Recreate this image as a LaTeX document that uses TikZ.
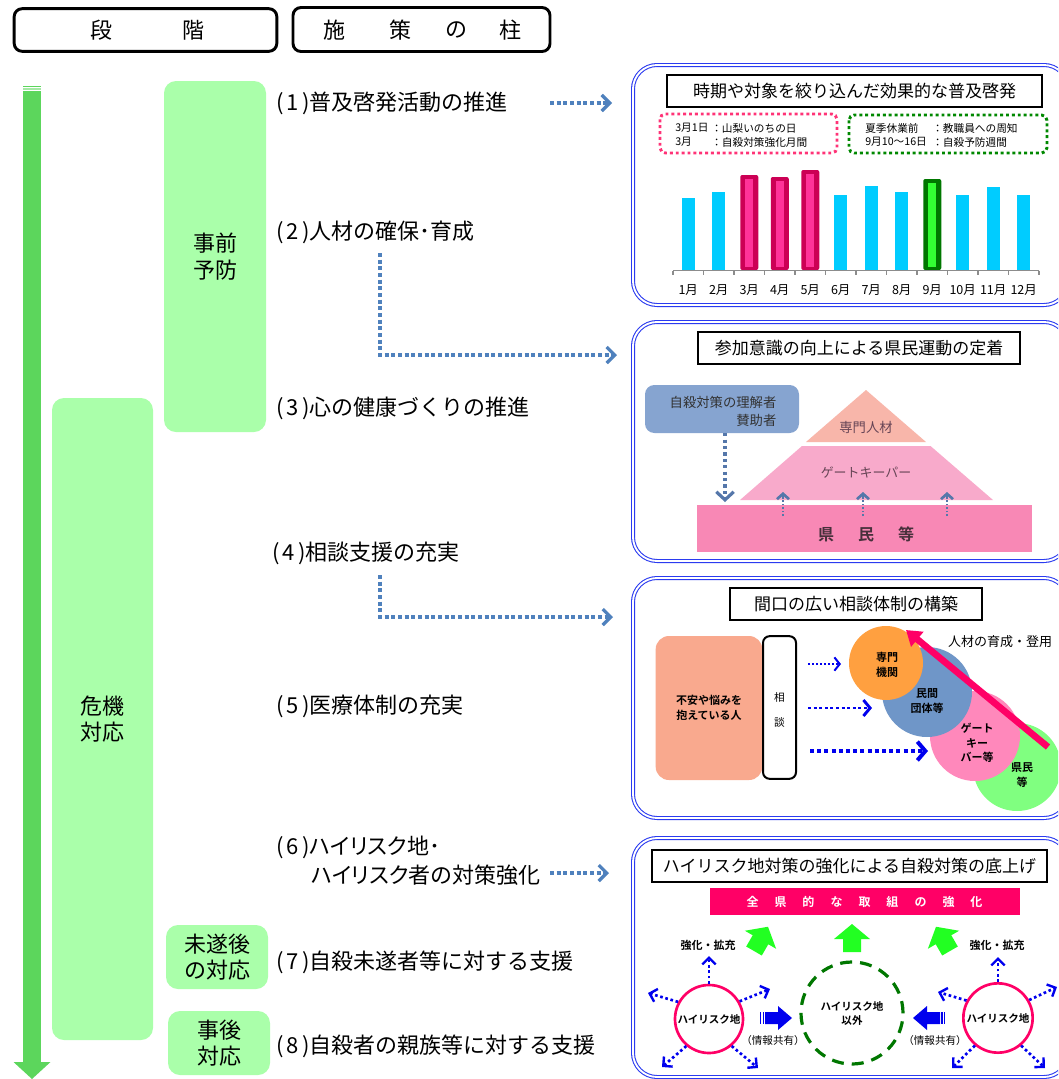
\documentclass[tikz,border=0pt]{standalone}
\usepackage{fontspec}
\setmainfont{Noto Sans CJK JP}[BoldFont={Noto Sans CJK JP Bold}]
\usetikzlibrary{arrows.meta}
\newcommand\fs[2]{\fontsize{#1}{#2}\selectfont}
\newcommand\pnum[1]{\makebox[25pt][s]{(\hfil#1\hfil)}}
\definecolor{colarrow}{HTML}{5CD65C}
\definecolor{lgreen}{HTML}{AAFFAA}
\definecolor{dotblue}{HTML}{4F81BD}
\definecolor{panelblue}{HTML}{2B3BF0}
\definecolor{cyanbar}{HTML}{00CCFF}
\definecolor{crim}{HTML}{CC0055}
\definecolor{pinkin}{HTML}{FF3399}
\definecolor{dgreen}{HTML}{007700}
\definecolor{lgbar}{HTML}{33FF33}
\definecolor{pinkdot}{HTML}{FF3377}
\definecolor{grdot}{HTML}{008800}
\definecolor{peach}{HTML}{F8B6AA}
\definecolor{midpink}{HTML}{F8AACB}
\definecolor{botpink}{HTML}{F888B5}
\definecolor{grayblue}{HTML}{86A4D0}
\definecolor{salmon}{HTML}{F9A98E}
\definecolor{orangec}{HTML}{FFA040}
\definecolor{bluec}{HTML}{6F96C8}
\definecolor{pinkc}{HTML}{FF88BB}
\definecolor{greenc}{HTML}{80FF80}
\definecolor{hotpink}{HTML}{FF0066}
\definecolor{brightgreen}{HTML}{22FF22}
\definecolor{pureblue}{HTML}{0000EE}
\definecolor{pyrtext}{HTML}{664455}
\definecolor{chevblue}{HTML}{5577AA}
\tikzset{
  hdr/.style={draw, line width=2.2pt, rounded corners=6pt, inner sep=0pt},
  hdrtxt/.style={font=\fs{16.5}{18}, inner sep=0pt},
  stg/.style={fill=lgreen, rounded corners=9pt, inner sep=0pt, align=center, font=\fs{16.5}{20}},
  lt/.style={anchor=west, inner sep=0pt, font=\fs{16.5}{20}},
  dotarr/.style={draw=dotblue, line width=3pt, dash pattern=on 3pt off 2pt, -{Straight Barb[length=6pt,width=12pt,line width=2.4pt]}},
  panel/.style={draw=panelblue, double=white, double distance=1.4pt, line width=0.8pt, rounded corners=18pt, inner sep=0pt},
  ttl/.style={draw, line width=1pt, fill=white, font=\fs{12.75}{14}, inner sep=0pt},
  small/.style={font=\fs{8}{9}, inner sep=0pt, anchor=west},
  mon/.style={font=\fs{9.4}{10}, inner sep=0pt},
  cir/.style={circle, inner sep=0pt, align=center, font=\bfseries\fs{8.25}{11}},
  bdot/.style={draw=pureblue, line width=2pt, dash pattern=on 2pt off 2pt, -{Straight Barb[length=5pt,width=10pt,line width=1.8pt]}},
  garrow/.pic={\fill[brightgreen] (-9,0) -- (9,0) -- (9,-13) -- (18,-13) -- (0,-28) -- (-18,-13) -- (-9,-13) -- cycle;},
}
\begin{document}
\begin{tikzpicture}[x=0.75pt,y=-0.75pt]
\useasboundingbox (0,0) rectangle (1058,1079);
\clip (0,0) rectangle (1058,1079);
\fill[white] (0,0) rectangle (1058,1079);

% ---------- headers
\node[hdr, minimum width=197pt, minimum height=32pt] (hA) at (145.5,30) {};
\node[hdrtxt] (hA1) at (101,30) {段};
\node[hdrtxt] (hA2) at (193,30) {階};
\node[hdr, minimum width=192.75pt, minimum height=33pt] (hB) at (421.5,29.5) {};
\node[hdrtxt] (hB1) at (334,30) {施};
\node[hdrtxt] (hB2) at (400,30) {策};
\node[hdrtxt] (hB3) at (456,30) {の};
\node[hdrtxt] (hB4) at (510,30) {柱};

% ---------- column arrow
\fill[colarrow] (23,86) rectangle (41,87.2);
\fill[colarrow!55] (23,88.3) rectangle (41,89.5);
\fill[colarrow] (23,90.5) rectangle (41,1063);
\fill[colarrow] (13.5,1062) -- (50.5,1062) -- (32,1079) -- cycle;

% ---------- stage boxes
\node[stg, minimum width=76.5pt, minimum height=263.25pt] (s1) at (215,256.5) {事前\\予防};
\node[stg, minimum width=75.75pt, minimum height=481.5pt] (s2) at (102.5,719) {危機\\対応};
\node[stg, minimum width=76.5pt, minimum height=48pt] (s3) at (217,957) {未遂後\\の対応};
\node[stg, minimum width=76.5pt, minimum height=48pt] (s4) at (219,1043) {事後\\対応};

% ---------- pillar texts
\node[lt] (t1) at (276,103) {\pnum{1}普及啓発活動の推進};
\node[lt] (t2) at (276,232) {\pnum{2}人材の確保･育成};
\node[lt] (t3) at (276,408) {\pnum{3}心の健康づくりの推進};
\node[lt] (t4) at (272,553) {\pnum{4}相談支援の充実};
\node[lt] (t5) at (276,706) {\pnum{5}医療体制の充実};
\node[lt] (t6a) at (276,847) {\pnum{6}\addfontfeatures{RawFeature=+palt}ハイリスク地･};
\node[lt] (t6b) at (311,875) {\addfontfeatures{RawFeature=+palt}ハイリスク者の対策強化};
\node[lt] (t7) at (276,962) {\pnum{7}自殺未遂者等に対する支援};
\node[lt] (t8) at (276,1046) {\pnum{8}自殺者の親族等に対する支援};

% ---------- dotted connectors
\coordinate (a1s) at (550,103); \coordinate (a1e) at (612,103);
\draw[dotarr] (a1s) -- (a1e);
\coordinate (a2s) at (380,253); \coordinate (a2e) at (617,355);
\draw[dotarr] (a2s) |- (a2e);
\coordinate (a3s) at (380,575); \coordinate (a3e) at (613,617);
\draw[dotarr] (a3s) |- (a3e);
\coordinate (a6s) at (550,873); \coordinate (a6e) at (609,873);
\draw[dotarr] (a6s) -- (a6e);

% ---------- panels
\node[panel, minimum width=326.25pt, minimum height=180pt] (p1) at (850.5,185) {};
\node[panel, minimum width=326.25pt, minimum height=179.25pt] (p2) at (850.5,441.5) {};
\node[panel, minimum width=326.25pt, minimum height=180pt] (p3) at (850.5,698) {};
\node[panel, minimum width=326.25pt, minimum height=179.25pt] (p4) at (850.5,957.5) {};

% ---------- panel 1
\node[ttl, minimum width=281.25pt, minimum height=24pt] (p1t) at (854.5,91) {時期や対象を絞り込んだ効果的な普及啓発};
\draw[pinkdot, line width=2.2pt, dash pattern=on 2.2pt off 2.2pt, rounded corners=4pt] (660,114) rectangle (837,153);
\draw[grdot, line width=2.2pt, dash pattern=on 2.2pt off 2.2pt, rounded corners=4pt] (849,115) rectangle (1047,153);
\node[small] (q1) at (675,128) {3月1日};
\node[small] (q2) at (711,128) {：山梨いのちの日};
\node[small] (q3) at (675,142) {3月};
\node[small] (q4) at (711,142) {：自殺対策強化月間};
\node[small] (q5) at (865,128) {夏季休業前};
\node[small] (q6) at (932,128) {：教職員への周知};
\node[small] (q7) at (865,142) {9月10～16日};
\node[small] (q8) at (932,142) {：自殺予防週間};
\foreach \i/\t in {1/198,2/192,6/195,7/186,8/192,10/195,11/187,12/195}
  \fill[cyanbar] ({673+30.5*\i-15.25-6.5},\t) rectangle ({673+30.5*\i-15.25+6.5},270);
\foreach \i/\t in {3/175,4/177,5/170}{
  \fill[crim, rounded corners=1.5pt] ({673+30.5*\i-15.25-9},\t) rectangle ({673+30.5*\i-15.25+9},270);
  \fill[pinkin] ({673+30.5*\i-15.25-4},\t+4) rectangle ({673+30.5*\i-15.25+4},267);
}
\foreach \i/\t in {9/179}{
  \fill[dgreen, rounded corners=1.5pt] ({673+30.5*\i-15.25-9},\t) rectangle ({673+30.5*\i-15.25+9},270);
  \fill[lgbar] ({673+30.5*\i-15.25-4},\t+4) rectangle ({673+30.5*\i-15.25+4},267);
}
\draw[black!45, line width=1.2pt] (673,270.5) -- (1039,270.5);
\foreach \k in {0,...,12} \draw[black!45, line width=1pt] ({673+30.5*\k},270.5) -- ++(0,4);
\foreach \i in {1,...,12} \node[mon] (m\i) at ({673+30.5*\i-15.25},290) {\i{}月};

% ---------- panel 2
\node[ttl, minimum width=241.5pt, minimum height=24pt] (p2t) at (859,348) {参加意識の向上による県民運動の定着};
\fill[botpink] (697,505) rectangle (1032,552);
\fill[midpink] (740,500) -- (993,500) -- (930.5,446) -- (802,446) -- cycle;
\fill[peach] (866,390) -- (806,442) -- (926,442) -- cycle;
\node[font=\fs{10}{11}, text=pyrtext, inner sep=0pt] (py1) at (866,427) {専門人材};
\node[font=\fs{9.7}{11}, text=pyrtext, inner sep=0pt] (py2) at (866,473) {ゲートキーパー};
\node[font=\bfseries\fs{12}{13}, text=pyrtext!70!black, inner sep=0pt] (py3) at (866,534) {県\hspace{18pt}民\hspace{18pt}等};
\node[fill=grayblue, rounded corners=7pt, minimum width=115.5pt, minimum height=36pt, inner sep=0pt] (gb) at (722,409) {};
\node[font=\fs{10}{13.5}, align=right, inner sep=0pt, text=black!80] (gbt) at (723,411) {自殺対策の理解者\\賛助者};
\coordinate (gbe) at (725,502);
\draw[draw=chevblue, line width=2.4pt, dash pattern=on 2.4pt off 2.4pt, -{Straight Barb[length=6pt,width=13pt,line width=2.4pt]}] (gb.south -| gbe) -- (gbe);
\foreach \x in {783,863,947}{
  \draw[chevblue, line width=1pt, dash pattern=on 1.2pt off 1.5pt] (\x,516) -- (\x,499);
  \draw[chevblue, line width=2pt, -{Straight Barb[length=4pt,width=9pt,line width=2pt]}] (\x,499) -- (\x,492);
}

% ---------- panel 3
\node[ttl, minimum width=189pt, minimum height=24pt] (p3t) at (856,604) {間口の広い相談体制の構築};
\node[fill=salmon, rounded corners=10pt, minimum width=80pt, minimum height=108pt, inner sep=0pt, align=center, font=\bfseries\fs{8.25}{11}] (worry) at (709,708) {不安や悩みを\\抱えている人};
\node[draw, fill=white, line width=1.5pt, rounded corners=5pt, minimum width=24.75pt, minimum height=107pt, inner sep=0pt] (soudan) at (779.5,707.5) {};
\node[font=\fs{8}{9}, inner sep=0pt] (so1) at (779.5,697) {相};
\node[font=\fs{8}{9}, inner sep=0pt] (so2) at (779.5,722) {談};
\coordinate (c1s) at (808,664); \coordinate (c1e) at (841,664);
\coordinate (c2s) at (808,708); \coordinate (c2e) at (872,708);
\coordinate (c3s) at (810,751); \coordinate (c3e) at (928,751);
\draw[pureblue, line width=1.5pt, dash pattern=on 1.5pt off 1.5pt, -{Straight Barb[length=4pt,width=10pt,line width=1.5pt]}] (c1s) -- (c1e);
\draw[pureblue, line width=2.2pt, dash pattern=on 2.2pt off 2pt, -{Straight Barb[length=5pt,width=12pt,line width=2.2pt]}] (c2s) -- (c2e);
\draw[pureblue, line width=3pt, dash pattern=on 3pt off 2.4pt, -{Straight Barb[length=6pt,width=14pt,line width=3pt]}] (c3s) -- (c3e);
\node[cir, fill=greenc, minimum size=66pt] (cg) at (1017,767) {};
\node[cir, fill=pinkc, minimum size=67.5pt] (cp) at (975,736) {};
\node[cir, fill=bluec, minimum size=67.5pt] (cb) at (927,692) {};
\node[cir, fill=orangec, minimum size=55.5pt] (co) at (886,663) {};
\node[cir] (cot) at (887,665) {専門\\機関};
\node[cir] (cbt) at (927,701) {民間\\団体等};
\node[cir] (cpt) at (977,743) {ゲート\\キー\\バー等};
\node[cir] (cgt) at (1022,775) {県民\\等};
\coordinate (pa1) at (1048,747); \coordinate (pa2) at (906,630);
\draw[hotpink, line width=5pt, -{Triangle[length=11pt,width=14pt]}] (pa1) -- (pa2);
\node[font=\fs{9.75}{11}, inner sep=0pt] (jin) at (1000,642) {人材の育成・登用};

% ---------- panel 4
\node[ttl, minimum width=296.25pt, minimum height=24pt] (p4t) at (849.5,866) {ハイリスク地対策の強化による自殺対策の底上げ};
\node[fill=hotpink, minimum width=232.5pt, minimum height=20.25pt, inner sep=0pt, text=white, font=\bfseries\fs{9}{10}] (ban) at (864.5,901.5)
  {全\hspace{12pt}県\hspace{12pt}的\hspace{12pt}な\hspace{12pt}取\hspace{12pt}組\hspace{12pt}の\hspace{12pt}強\hspace{12pt}化};
\path (754,951) pic[rotate=-30] {garrow};
\path (852,952) pic {garrow};
\path (950,951) pic[rotate=30] {garrow};
\node[font=\bfseries\fs{8.25}{9}, inner sep=0pt] (kk1) at (708,945) {強化・拡充};
\node[font=\bfseries\fs{8.25}{9}, inner sep=0pt] (kk2) at (997,945) {強化・拡充};
\node[cir, draw=hotpink, line width=2pt, minimum size=51pt, font=\bfseries\fs{7.9}{10}] (hr1) at (709,1019) {ハイリスク地};
\node[cir, draw=hotpink, line width=2pt, minimum size=52pt, font=\bfseries\fs{7.9}{10}] (hr2) at (998,1018) {ハイリスク地};
\node[cir, draw=dgreen, line width=2.4pt, dash pattern=on 9pt off 6pt, minimum size=76.5pt, font=\bfseries\fs{7.9}{10.5}] (oth) at (852,1013) {ハイリスク地\\以外};
% fat blue arrows
\fill[pureblue] (765,1012) -- (778,1012) -- (778,1006) -- (792,1018) -- (778,1030) -- (778,1024) -- (765,1024) -- cycle;
\fill[pureblue] (760,1012) rectangle (761.2,1024);
\fill[pureblue] (762.5,1012) rectangle (763.7,1024);
\fill[pureblue] (940,1012) -- (927,1012) -- (927,1006) -- (913,1018) -- (927,1030) -- (927,1024) -- (940,1024) -- cycle;
\fill[pureblue] (941.3,1012) rectangle (942.5,1024);
\fill[pureblue] (943.8,1012) rectangle (945,1024);
\node[font=\fs{7.9}{9}, inner sep=0pt] (jk1) at (773,1040) {（情報共有）};
\node[font=\fs{7.9}{9}, inner sep=0pt] (jk2) at (935,1040) {（情報共有）};
% dotted spread arrows
\draw[bdot] (hr1.90) -- (709,956);
\draw[bdot] (hr1.151) -- (648,993);
\draw[bdot] (hr1.30) -- (770,989);
\draw[bdot] (hr1.230) -- (662,1067);
\draw[bdot] (hr1.310) -- (758,1068);
\draw[bdot] (hr2.90) -- (998,957);
\draw[bdot] (hr2.151) -- (938,992);
\draw[bdot] (hr2.30) -- (1057,987);
\draw[bdot] (hr2.230) -- (952,1068);
\draw[bdot] (hr2.310) -- (1045,1068);
\end{tikzpicture}
\end{document}
